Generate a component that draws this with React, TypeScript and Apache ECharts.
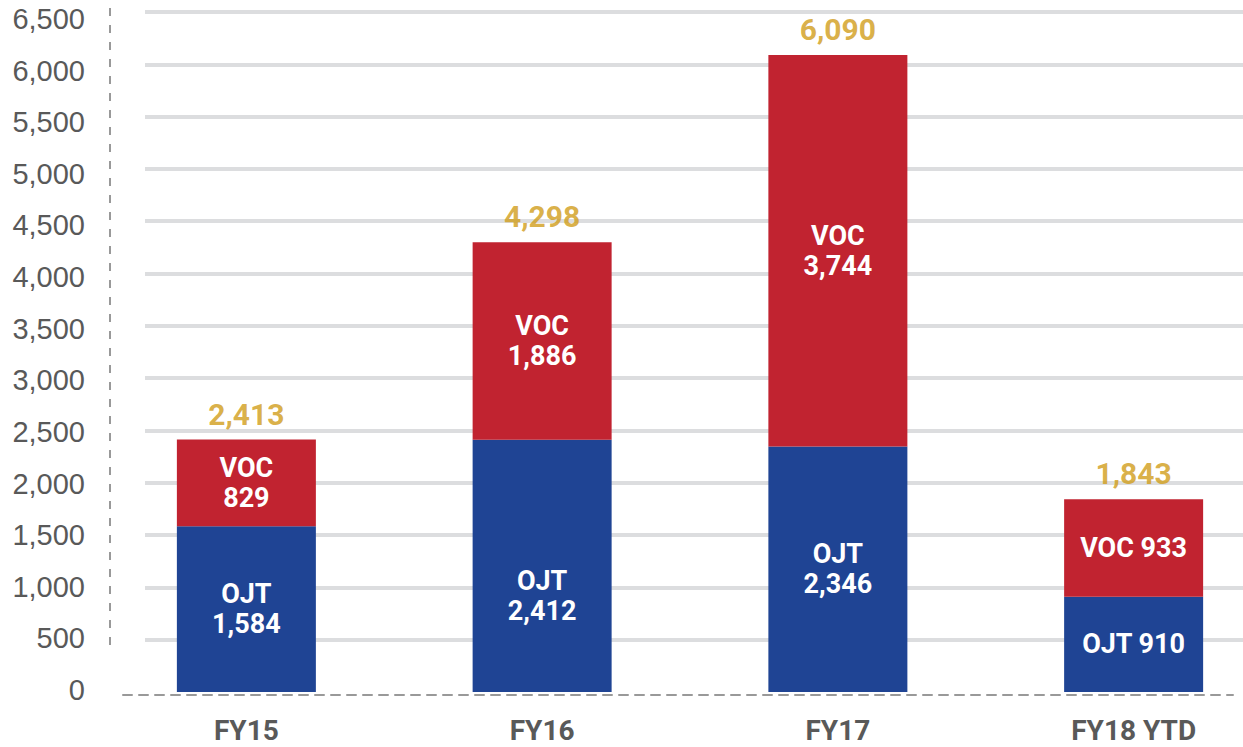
import React, { useEffect, useRef } from "react";
import * as echarts from "echarts";

const categories = ["FY15", "FY16", "FY17", "FY18 YTD"];
const ojtValues = [1584, 2412, 2346, 910];
const vocValues = [829, 1886, 3744, 933];
const totalValues = [2413, 4298, 6090, 1843];
const labelSeparators = ["\n", "\n", "\n", " "];
const yMin = 0;
const yMax = 6500;
const yInterval = 500;

const fmt = (n: number) => n.toLocaleString("en-US");

const BLUE = "#1f4494";
const RED = "#c12330";
const GOLD = "#d09c18";
const GRAY_TEXT = "#595959";
const AXIS_GRAY = "#999999";
const BOLD_FONT = "Roboto, 'Liberation Sans', sans-serif";
const REG_FONT = "'Liberation Sans', Arial, sans-serif";

export default function App() {
  const ref = useRef<HTMLDivElement>(null);
  useEffect(() => {
    if (!ref.current) return;
    const chart = echarts.init(ref.current, undefined, { renderer: "svg" });
    const innerLabel = (name: string) => ({
      show: true,
      position: "inside",
      color: "#ffffff",
      fontSize: 27,
      fontWeight: "bold",
      fontFamily: BOLD_FONT,
      lineHeight: 30,
      formatter: (p: any) => `${name}${labelSeparators[p.dataIndex]}${fmt(p.value)}`,
    });
    const noBounds = { outerBoundsMode: "none", containLabel: false };
    chart.setOption({
      animation: false,
      graphic: [
        {
          type: "line",
          shape: { x1: 110, y1: 8, x2: 110, y2: 652 },
          style: { stroke: AXIS_GRAY, lineWidth: 2, lineDash: [8, 9] },
        },
      ],
      grid: [
        { left: 98.5, width: 1183, top: 12, height: 680, ...noBounds },
        { left: 145, right: 0, top: 12, height: 680, ...noBounds },
        { left: 123, right: 10, top: 15, height: 680, ...noBounds },
        { left: 110, width: 20, top: 19, height: 671, ...noBounds },
      ],
      xAxis: [
        {
          type: "category",
          gridIndex: 0,
          data: categories,
          axisLine: { show: false },
          axisTick: { show: false },
          axisLabel: {
            color: GRAY_TEXT,
            fontSize: 28,
            fontWeight: "bold",
            fontFamily: BOLD_FONT,
            margin: 24,
          },
        },
        { type: "value", gridIndex: 1, show: false },
        {
          type: "value",
          gridIndex: 2,
          axisLine: {
            show: true,
            lineStyle: { color: AXIS_GRAY, width: 2, type: [9, 7] },
          },
          axisTick: { show: false },
          axisLabel: { show: false },
          splitLine: { show: false },
        },
        { type: "value", gridIndex: 3, show: false },
      ],
      yAxis: [
        {
          type: "value",
          gridIndex: 0,
          min: yMin,
          max: yMax,
          interval: yInterval,
          show: false,
          splitLine: { show: false },
        },
        {
          type: "value",
          gridIndex: 1,
          min: yMin,
          max: yMax,
          interval: yInterval,
          axisLine: { show: false },
          axisTick: { show: false },
          axisLabel: { show: false },
          splitLine: {
            show: true,
            showMinLine: false,
            lineStyle: { color: "#dcdddf", width: 4 },
          },
        },
        {
          type: "value",
          gridIndex: 2,
          min: yMin,
          max: yMax,
          show: false,
          splitLine: { show: false },
        },
        {
          type: "value",
          gridIndex: 3,
          min: yMin,
          max: yMax,
          interval: yInterval,
          axisLine: { show: false },
          axisTick: { show: false },
          splitLine: { show: false },
          axisLabel: {
            color: GRAY_TEXT,
            fontSize: 29,
            fontFamily: REG_FONT,
            margin: 25,
            formatter: (v: number) => fmt(v),
          },
        },
      ],
      series: [
        {
          name: "OJT",
          type: "bar",
          stack: "total",
          xAxisIndex: 0,
          yAxisIndex: 0,
          barWidth: 139,
          data: ojtValues.map((v, i) =>
            i === 1 ? { value: v, label: { offset: [0, 30] } } : v
          ),
          itemStyle: { color: BLUE },
          label: innerLabel("OJT"),
          z: 5,
        },
        {
          name: "VOC",
          type: "bar",
          stack: "total",
          xAxisIndex: 0,
          yAxisIndex: 0,
          barWidth: 139,
          data: vocValues,
          itemStyle: { color: RED },
          label: innerLabel("VOC"),
          z: 5,
        },
        {
          name: "Total",
          type: "scatter",
          xAxisIndex: 0,
          yAxisIndex: 0,
          symbolSize: 1,
          itemStyle: { color: "rgba(0,0,0,0)" },
          data: totalValues.map((v, i) => [categories[i], v]),
          label: {
            show: true,
            position: "top",
            distance: 10,
            color: GOLD,
            fontSize: 30,
            fontWeight: "bold",
            fontFamily: BOLD_FONT,
            formatter: (p: any) => fmt(p.value[1]),
          },
          z: 6,
        },
      ],
    });
    return () => chart.dispose();
  }, []);
  return (
    <div
      ref={ref}
      style={{ position: "absolute", left: 0, top: 0, width: 1243, height: 747 }}
    />
  );
}
